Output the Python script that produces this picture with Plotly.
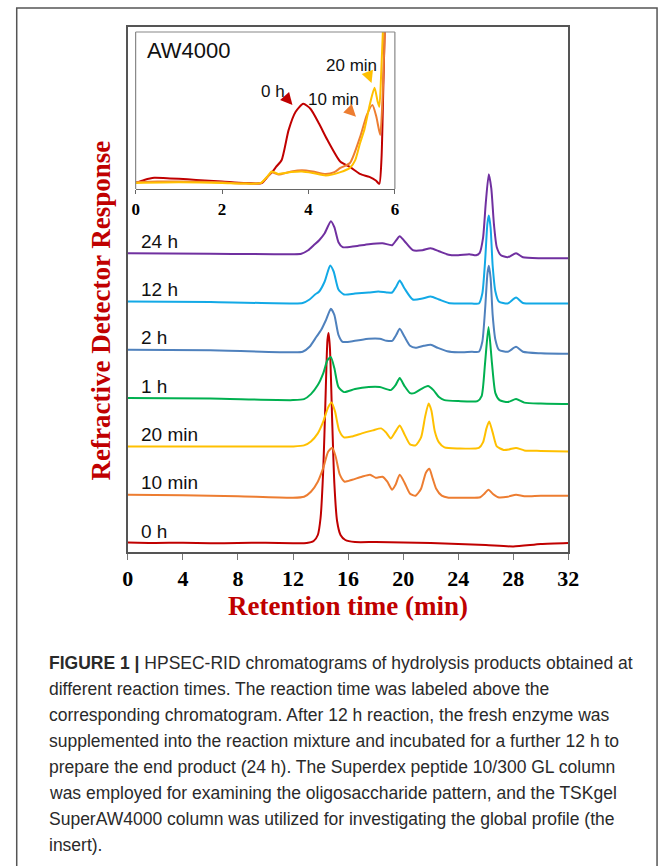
import plotly.graph_objects as go

W, H = 670, 866

# ---------------- main chromatograms (Superdex peptide) ----------------
labels = ["0 h", "10 min", "20 min", "1 h", "2 h", "12 h", "24 h"]
colors = ["#C00000", "#ED7D31", "#FFC000", "#00B050", "#4F81BD", "#12A9E6", "#7030A0"]

t_0h = [0, 2, 4, 6, 8, 10, 12, 13.0, 13.5, 13.8, 14.0, 14.2, 14.35, 14.5, 14.58, 14.68, 14.85, 15.0, 15.2, 15.45, 15.8, 16.5, 18, 20, 22, 24, 26, 28, 30, 32]
r_0h = [0.05, 0.0, 0.03, -0.02, 0.0, 0.03, -0.02, 0.0, 0.2, 0.8, 2.5, 7.5, 14.0, 20.3, 21.0, 19.5, 12.0, 6.0, 2.2, 0.8, 0.3, 0.1, 0.1, 0.05, 0.0, -0.1, -0.2, -0.35, -0.1, 0.0]

t_10m = [0, 4, 8, 12, 12.8, 13.3, 13.8, 14.2, 14.55, 14.85, 15.1, 15.4, 15.75, 16.3, 17.0, 17.6, 18.0, 18.5, 18.85, 19.2, 19.45, 19.75, 20.1, 20.5, 20.9, 21.3, 21.65, 21.9, 22.15, 22.4, 22.8, 23.3, 24.5, 25.6, 25.9, 26.2, 26.5, 26.9, 27.6, 28.2, 28.8, 30, 32]
r_10m = [0, -0.05, -0.15, -0.3, -0.2, 0.3, 1.3, 2.7, 4.3, 4.7, 3.8, 2.0, 1.3, 1.5, 1.8, 2.0, 1.7, 1.8, 1.3, 0.5, 1.0, 2.0, 1.2, 0.1, -0.1, 0.6, 2.2, 2.6, 1.6, 0.6, -0.1, -0.3, -0.3, -0.25, 0.1, 0.5, 0.1, -0.25, -0.2, 0.0, -0.15, -0.1, -0.1]

t_20m = [0, 6, 12, 12.8, 13.3, 13.8, 14.2, 14.55, 14.8, 15.05, 15.35, 15.7, 16.3, 17.0, 17.8, 18.4, 18.75, 19.1, 19.45, 19.75, 20.1, 20.5, 20.9, 21.3, 21.6, 21.85, 22.05, 22.3, 22.6, 23.0, 24, 25.5, 25.8, 26.05, 26.25, 26.5, 26.8, 27.3, 27.7, 28.2, 28.8, 30, 32]
r_20m = [0, 0, 0.0, 0.1, 0.5, 1.3, 2.5, 3.9, 4.4, 3.5, 1.6, 0.9, 1.0, 1.3, 1.6, 1.8, 1.4, 0.8, 1.5, 2.1, 1.2, 0.2, 0.1, 0.9, 3.0, 4.3, 3.6, 1.5, 0.4, -0.1, -0.2, -0.15, 0.4, 1.8, 2.5, 1.4, 0.0, -0.35, -0.3, -0.15, -0.4, -0.45, -0.5]

t_1h = [0, 6, 12, 12.8, 13.3, 13.8, 14.2, 14.5, 14.75, 15.0, 15.3, 15.7, 16.5, 17.5, 18.3, 19.1, 19.45, 19.75, 20.1, 20.5, 20.8, 21.3, 21.8, 22.2, 22.6, 23.0, 24, 25.4, 25.7, 25.95, 26.2, 26.45, 26.7, 27.0, 27.6, 28.2, 28.8, 30, 32]
r_1h = [0, -0.05, -0.2, -0.1, 0.4, 1.3, 2.5, 3.8, 4.1, 3.0, 1.1, 0.6, 0.9, 1.1, 1.1, 0.8, 1.3, 2.0, 1.2, 0.5, 0.5, 0.9, 1.2, 0.8, 0.1, -0.2, -0.3, -0.3, 0.2, 3.5, 7.1, 3.5, 0.5, -0.2, -0.4, -0.1, -0.45, -0.55, -0.6]

t_2h = [0, 6, 12, 12.7, 13.2, 13.7, 14.05, 14.4, 14.75, 15.0, 15.3, 15.6, 16.5, 17.5, 18.3, 18.8, 19.2, 19.5, 19.75, 20.1, 20.5, 20.9, 21.5, 22.0, 22.5, 23.2, 24, 25.0, 25.5, 25.75, 25.95, 26.12, 26.22, 26.35, 26.5, 26.7, 26.95, 27.6, 28.2, 28.7, 30, 32]
r_2h = [0, -0.05, -0.25, -0.2, 0.3, 1.3, 2.0, 3.0, 4.1, 3.5, 1.5, 0.8, 0.9, 1.1, 1.1, 0.9, 0.9, 1.5, 2.1, 1.3, 0.4, 0.2, 0.4, 0.5, 0.2, -0.15, -0.25, -0.2, -0.2, 0.8, 4.0, 7.6, 8.4, 7.2, 3.5, 1.0, 0.0, -0.2, 0.3, -0.2, -0.35, -0.4]

t_12h = [0, 6, 12, 12.7, 13.2, 13.6, 13.9, 14.3, 14.7, 14.95, 15.3, 15.7, 16.5, 17.5, 18.2, 18.8, 19.2, 19.5, 19.75, 20.1, 20.7, 21.4, 22.0, 22.6, 23.3, 24, 25.0, 25.5, 25.75, 25.95, 26.12, 26.22, 26.35, 26.5, 26.7, 26.95, 27.6, 28.2, 28.7, 30, 32]
r_12h = [0, -0.05, -0.2, -0.15, 0.2, 0.7, 1.0, 2.0, 3.6, 3.0, 1.2, 0.7, 0.8, 0.9, 1.0, 0.9, 0.9, 1.5, 2.1, 1.3, 0.2, 0.3, 0.5, 0.2, -0.15, -0.2, -0.2, -0.2, 0.8, 4.0, 7.8, 8.6, 7.4, 3.6, 1.0, 0.0, -0.2, 0.4, -0.15, -0.2, -0.2]

t_24h = [0, 6, 12, 12.6, 13.1, 13.5, 13.9, 14.3, 14.75, 15.0, 15.3, 15.6, 16.5, 17.5, 18.5, 19.2, 19.5, 19.75, 20.1, 20.7, 21.4, 22.0, 22.6, 23.3, 24.0, 24.8, 25.3, 25.55, 25.8, 26.0, 26.22, 26.4, 26.6, 26.8, 27.1, 27.6, 28.2, 28.7, 30, 32]
r_24h = [0, -0.05, -0.1, -0.05, 0.3, 0.8, 1.3, 2.0, 3.2, 2.6, 1.1, 0.6, 0.7, 0.9, 1.0, 0.8, 1.3, 1.7, 1.2, 0.3, 0.3, 0.5, 0.2, -0.15, -0.2, -0.1, -0.2, 0.0, 1.5, 5.0, 7.9, 6.5, 2.8, 0.6, -0.2, -0.4, 0.0, -0.4, -0.5, -0.5]

times = [t_0h, t_10m, t_20m, t_1h, t_2h, t_12h, t_24h]
responses = [r_0h, r_10m, r_20m, r_1h, r_2h, r_12h, r_24h]
main_ticks = [0, 4, 8, 12, 16, 20, 24, 28, 32]

# ---------------- inset (TSKgel SuperAW4000) ----------------
ins_labels = ["0 h", "10 min", "20 min"]
ins_colors = ["#C00000", "#ED7D31", "#FFC000"]
it_0h = [0, 0.2, 0.43, 0.8, 1.2, 1.6, 2.0, 2.5, 2.92, 3.05, 3.16, 3.25, 3.38, 3.54, 3.7, 3.88, 4.05, 4.25, 4.44, 4.74, 4.96, 5.19, 5.41, 5.56, 5.64, 5.69, 5.73, 5.78]
iv_0h = [0.0, 0.1, 0.17, 0.15, 0.12, 0.08, 0.05, 0.0, 0.0, 0.2, 0.36, 0.53, 0.76, 1.75, 2.35, 2.62, 2.45, 1.95, 1.42, 0.7, 0.53, 0.3, 0.2, 0.08, -0.03, 0.8, 3.0, 6.0]
it_10m = [0, 0.5, 1.0, 2.0, 2.5, 2.9, 3.05, 3.15, 3.3, 3.6, 3.85, 4.1, 4.4, 4.6, 4.74, 4.96, 5.19, 5.35, 5.48, 5.57, 5.66, 5.72, 5.79]
iv_10m = [0.03, 0.05, 0.05, 0.02, -0.02, 0.0, 0.2, 0.35, 0.28, 0.38, 0.42, 0.38, 0.3, 0.36, 0.5, 0.66, 1.5, 2.25, 2.58, 2.2, 1.59, 3.0, 6.0]
it_20m = [0, 1.0, 2.0, 2.5, 2.9, 3.05, 3.15, 3.3, 3.6, 3.85, 4.1, 4.4, 4.74, 4.96, 5.08, 5.19, 5.3, 5.42, 5.53, 5.6, 5.64, 5.68, 5.75]
iv_20m = [0.0, 0.02, 0.0, -0.02, 0.0, 0.22, 0.38, 0.3, 0.36, 0.38, 0.33, 0.25, 0.36, 0.5, 0.75, 1.3, 1.8, 2.6, 3.15, 2.7, 2.52, 3.5, 6.0]
ins_t = [it_0h, it_10m, it_20m]
ins_v = [iv_0h, iv_10m, iv_20m]
ins_ticks = [0, 2, 4, 6]

caption_lines = [
    "<b>FIGURE 1 |</b> HPSEC-RID chromatograms of hydrolysis products obtained at",
    "different reaction times. The reaction time was labeled above the",
    "corresponding chromatogram. After 12 h reaction, the fresh enzyme was",
    "supplemented into the reaction mixture and incubated for a further 12 h to",
    "prepare the end product (24 h). The Superdex peptide 10/300 GL column",
    "was employed for examining the oligosaccharide pattern, and the TSKgel",
    "SuperAW4000 column was utilized for investigating the global profile (the",
    "insert).",
]

# ---------------- geometry helpers (pixel -> paper) ----------------
def px(x):
    return x / W

def py(y):
    return 1 - y / H

STEP = 4.83  # vertical offset between stacked chromatograms

fig = go.Figure()
for i, (t, r, c) in enumerate(zip(times, responses, colors)):
    fig.add_trace(go.Scatter(x=t, y=[v + i * STEP for v in r], mode="lines",
                             line=dict(color=c, width=2, shape="spline", smoothing=0.6),
                             xaxis="x", yaxis="y", showlegend=False, hoverinfo="skip"))
    fig.add_annotation(x=0.8, y=i * STEP + 1.2, xref="x", yref="y", text=labels[i],
                       showarrow=False, xanchor="left", yanchor="middle",
                       font=dict(family="Liberation Sans", size=19, color="#111"))

for t, v, c in zip(ins_t, ins_v, ins_colors):
    fig.add_trace(go.Scatter(x=t, y=v, mode="lines",
                             line=dict(color=c, width=2, shape="spline", smoothing=0.6),
                             xaxis="x2", yaxis="y2", showlegend=False, hoverinfo="skip"))

serif_bold = dict(family="Liberation Serif", size=22, color="black", weight="bold")

fig.update_layout(
    width=W, height=H, margin=dict(l=0, r=0, t=0, b=0),
    paper_bgcolor="white", plot_bgcolor="white",
    xaxis=dict(domain=[px(125), px(577)], range=[0, 32], tickvals=main_ticks,
               showgrid=False, zeroline=False, showline=True, mirror=True,
               linecolor="#555", linewidth=1.5, ticks="outside", ticklen=6,
               tickcolor="#777", tickwidth=1.2, tickfont=serif_bold, ticklabelstandoff=0),
    yaxis=dict(domain=[py(552), py(27)], range=[-0.9, 51.6], showgrid=False,
               zeroline=False, showline=True, mirror=True, linecolor="#555",
               linewidth=1.5, showticklabels=False, ticks=""),
    xaxis2=dict(domain=[px(133), px(399)], range=[0, 6], tickvals=ins_ticks, anchor="y2",
                showgrid=False, zeroline=False, showline=True, mirror=False,
                linecolor="#666", linewidth=1.2, ticks="outside", ticklen=4,
                tickcolor="#666", tickfont=dict(family="Liberation Serif", size=17,
                                                color="black", weight="bold")),
    yaxis2=dict(domain=[py(189), py(32)], range=[-0.2, 5.0], anchor="x2",
                showgrid=False, zeroline=False, showline=False,
                showticklabels=False, ticks=""),
)

# inset frame (left, top, right edges)
fig.add_shape(type="line", xref="paper", yref="paper", x0=px(133), x1=px(133),
              y0=py(189), y1=py(32), line=dict(color="#888", width=1.2))
fig.add_shape(type="line", xref="paper", yref="paper", x0=px(133), x1=px(399),
              y0=py(32), y1=py(32), line=dict(color="#888", width=1.2))
fig.add_shape(type="line", xref="paper", yref="paper", x0=px(399), x1=px(399),
              y0=py(189), y1=py(32), line=dict(color="#888", width=1.2))

# inset annotations
fig.add_annotation(x=0.22, y=4.4, xref="x2", yref="y2", text="AW4000", showarrow=False,
                   xanchor="left", yanchor="middle",
                   font=dict(family="Liberation Sans", size=22, color="#111"))
ins_text_pos = [(3.18, 3.02), (4.58, 2.75), (5.0, 3.88)]
ins_arrow_tip = [(3.63, 2.58), (5.1, 2.19), (5.46, 3.31)]
ins_arrow_off = [(-7, -8), (-7, -7), (-3, -8)]
for lab, c, (tx, ty), (ax_, ay_), (ox, oy) in zip(ins_labels, ins_colors, ins_text_pos,
                                                   ins_arrow_tip, ins_arrow_off):
    fig.add_annotation(x=tx, y=ty, xref="x2", yref="y2", text=lab, showarrow=False,
                       xanchor="center", yanchor="middle",
                       font=dict(family="Liberation Sans", size=17, color="#111"))
    fig.add_annotation(x=ax_, y=ay_, xref="x2", yref="y2", text="", showarrow=True,
                       ax=ox, ay=oy, arrowhead=2, arrowsize=1.2, arrowwidth=2,
                       arrowcolor=c, standoff=0)

# axis titles
fig.add_annotation(x=px(351), y=py(606), xref="paper", yref="paper",
                   text="Retention time (min)", showarrow=False,
                   xanchor="center", yanchor="middle",
                   font=dict(family="Liberation Serif", size=27, color="#C00000", weight="bold"))
fig.add_annotation(x=px(97), y=py(311), xref="paper", yref="paper",
                   text="Refractive Detector Response", showarrow=False, textangle=-90,
                   xanchor="center", yanchor="middle",
                   font=dict(family="Liberation Serif", size=27, color="#C00000", weight="bold"))

# caption
for k, line in enumerate(caption_lines):
    fig.add_annotation(x=px(42), y=py(663 + 26 * k), xref="paper", yref="paper",
                       text=line, showarrow=False, xanchor="left", yanchor="middle",
                       font=dict(family="Liberation Sans", size=17.5, color="#2a2a2a"))

# outer figure frame
fig.add_shape(type="rect", xref="paper", yref="paper", x0=px(11), x1=px(668),
              y0=py(880), y1=py(8), line=dict(color="#555", width=1.5))

fig.write_html("out.html", config={"responsive": False},
               post_script="document.body.style.margin='0';document.body.style.overflow='hidden';")
